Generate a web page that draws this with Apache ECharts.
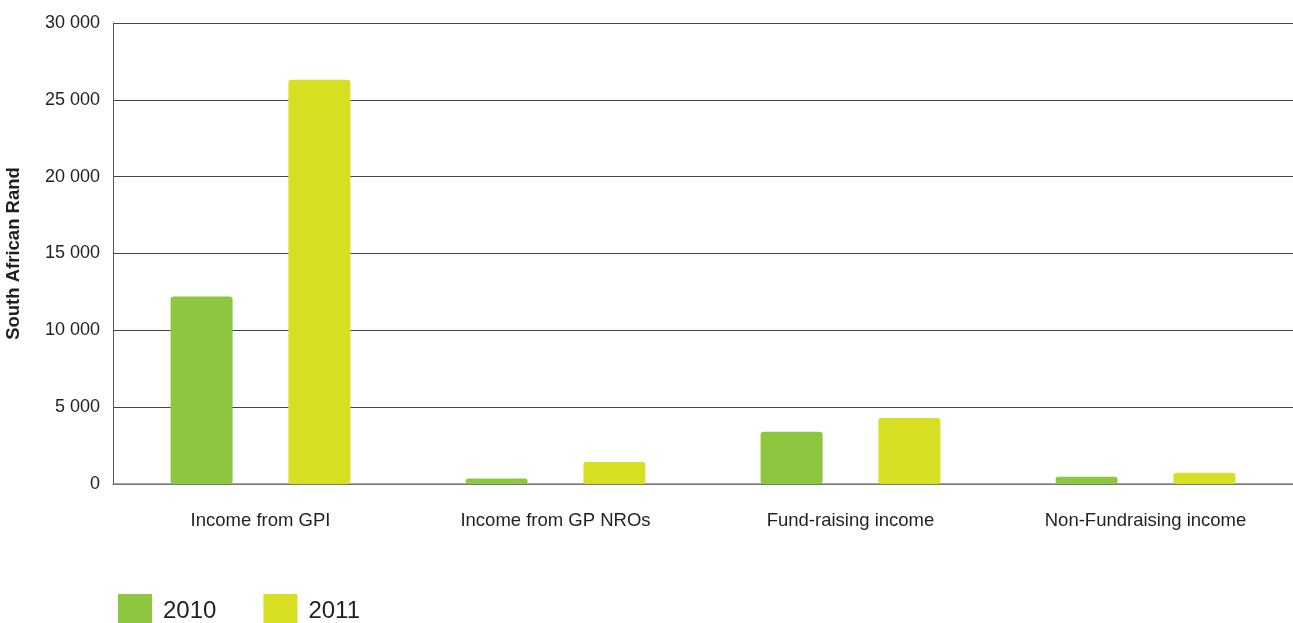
<!DOCTYPE html>
<html>
<head>
<meta charset="utf-8">
<script src="https://cdn.jsdelivr.net/npm/echarts@6/dist/echarts.min.js"></script>
<style>
  html, body { margin: 0; padding: 0; background: #fff; }
  #chart { width: 1293px; height: 623px; }
</style>
</head>
<body>
<div id="chart"></div>
<script>
// Income by source, in South African Rand
const categories = ['Income from GPI', 'Income from GP NROs', 'Fund-raising income', 'Non-Fundraising income'];
const values2010 = [12200, 350, 3400, 475];
const values2011 = [26300, 1430, 4300, 735];
const yTicks = { min: 0, max: 30000, interval: 5000 };

const COLOR_2010 = '#8dc63f';
const COLOR_2011 = '#d7df23';
const FONT = '"Liberation Sans", Arial, Helvetica, sans-serif';

const chart = echarts.init(document.getElementById('chart'), null, { renderer: 'canvas' });

function fmt(v) {
  return String(v).replace(/\B(?=(\d{3})+(?!\d))/g, ' ');
}

chart.setOption({
  animation: false,
  backgroundColor: '#fff',
  grid: { left: 113, right: 0, top: 23, bottom: 139, containLabel: false, outerBoundsMode: 'none' },
  legend: {
    left: 118,
    top: 594,
    padding: 0,
    itemWidth: 34,
    itemHeight: 34,
    itemGap: 47,
    icon: 'rect',
    textStyle: { fontFamily: FONT, fontSize: 24, color: '#231f20', padding: [0, 0, 0, 6] },
    data: ['2010', '2011']
  },
  xAxis: {
    type: 'category',
    data: categories,
    axisLine: { show: true, lineStyle: { color: '#888', width: 1.5 } },
    axisTick: { show: false },
    axisLabel: { fontFamily: FONT, fontSize: 18.5, color: '#231f20', margin: 27 }
  },
  yAxis: {
    type: 'value',
    min: yTicks.min,
    max: yTicks.max,
    interval: yTicks.interval,
    name: 'South African Rand',
    nameLocation: 'middle',
    nameGap: 90,
    nameRotate: 90,
    nameTextStyle: { fontFamily: FONT, fontSize: 18.5, fontWeight: 'bold', color: '#231f20' },
    axisLine: { show: true, lineStyle: { color: '#555', width: 1 } },
    axisTick: { show: false },
    axisLabel: { fontFamily: FONT, fontSize: 18, color: '#231f20', margin: 13, formatter: fmt },
    splitLine: { show: true, lineStyle: { color: '#444', width: 1 } }
  },
  series: [
    {
      name: '2010',
      type: 'bar',
      data: values2010,
      barWidth: 62,
      barGap: '90%',
      itemStyle: { color: COLOR_2010, borderRadius: 3 }
    },
    {
      name: '2011',
      type: 'bar',
      data: values2011,
      barWidth: 62,
      barGap: '90%',
      itemStyle: { color: COLOR_2011, borderRadius: 3 }
    }
  ]
});
</script>
</body>
</html>
